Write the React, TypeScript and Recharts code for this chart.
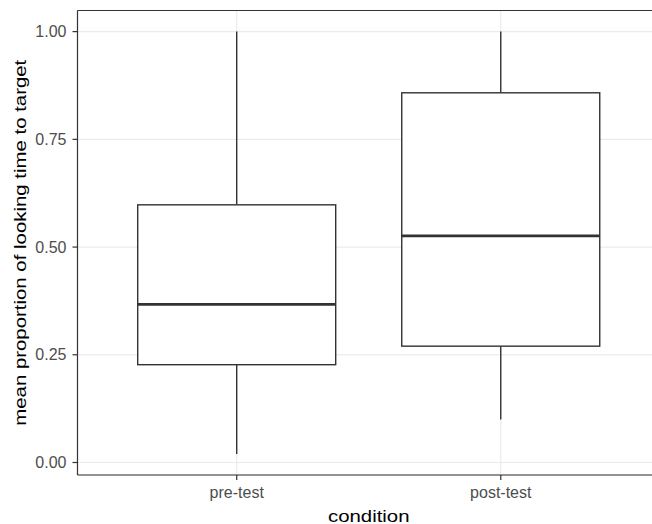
import { Bar, CartesianGrid, ComposedChart, ReferenceLine, XAxis, YAxis } from 'recharts'

const conditions = ['pre-test', 'post-test']
const whiskerLow = [0.02, 0.1]
const lowerQuartile = [0.227, 0.27]
const medians = [0.367, 0.526]
const upperQuartile = [0.598, 0.858]
const whiskerHigh = [1.0, 1.0]

const yTicks = [0, 0.25, 0.5, 0.75, 1]
const yMinorTicks = [0.125, 0.375, 0.625, 0.875]
const yDomain = [-0.029, 1.049]

const data = conditions.map((condition, i) => ({
  condition,
  box: [lowerQuartile[i], upperQuartile[i]],
  min: whiskerLow[i],
  q1: lowerQuartile[i],
  median: medians[i],
  q3: upperQuartile[i],
  max: whiskerHigh[i],
}))

const INK = '#333333'
const FONT = '"Liberation Sans", Arial, Helvetica, sans-serif'

// box + whiskers + median, positioned from the bar's own scaled rect
const BoxShape = (props: any) => {
  const { x, y, width, height, payload } = props
  const top = Math.min(y, y + height)
  const h = Math.abs(height)
  const { min, q1, median, q3, max } = payload
  const perUnit = h / (q3 - q1)
  const yOf = (v: number) => top + (q3 - v) * perUnit
  const cx = x + width / 2
  return (
    <g>
      <line x1={cx} x2={cx} y1={yOf(max)} y2={yOf(q3)} stroke={INK} strokeWidth={1.4} />
      <line x1={cx} x2={cx} y1={yOf(q1)} y2={yOf(min)} stroke={INK} strokeWidth={1.4} />
      <rect x={x} y={top} width={width} height={h} fill="#ffffff" stroke={INK} strokeWidth={1.4} />
      <line x1={x} x2={x + width} y1={yOf(median)} y2={yOf(median)} stroke={INK} strokeWidth={2.8} />
    </g>
  )
}

const XTitle = (props: any) => {
  const { x, y, width } = props.viewBox
  return (
    <text
      transform={`translate(${x + width / 2},${y + 46.5}) scale(1.2,1)`}
      textAnchor="middle"
      fontFamily={FONT}
      fontSize={17}
      fill="#000"
    >
      condition
    </text>
  )
}

const YTitle = (props: any) => {
  const { y, height } = props.viewBox
  return (
    <text
      transform={`translate(25.5,${y + height / 2}) rotate(-90) scale(1.2,1)`}
      textAnchor="middle"
      fontFamily={FONT}
      fontSize={17}
      fill="#000"
    >
      mean proportion of looking time to target
    </text>
  )
}

export default function App() {
  return (
    <div
      style={{
        position: 'fixed',
        left: 0,
        top: 0,
        width: 652,
        height: 524,
        overflow: 'hidden',
        background: '#fff',
      }}
    >
      <ComposedChart
        width={672}
        height={524}
        data={data}
        margin={{ top: 10.5, right: 12, bottom: 0, left: 0 }}
      >
        <CartesianGrid yAxisId="minor" vertical={false} stroke="#F2F2F2" strokeWidth={0.8} />
        <CartesianGrid stroke="#EBEBEB" strokeWidth={1.2} />
        <XAxis
          dataKey="condition"
          height={49}
          padding={{ left: 27.2, right: 27.2 }}
          tickSize={5}
          tickMargin={7}
          axisLine={{ stroke: INK, strokeWidth: 1.2 }}
          tickLine={{ stroke: INK, strokeWidth: 1.2 }}
          tick={{ fill: '#4D4D4D', fontSize: 16, fontFamily: FONT }}
          label={<XTitle />}
        />
        <YAxis
          type="number"
          width={77.5}
          domain={yDomain}
          allowDataOverflow
          ticks={yTicks}
          tickFormatter={(v: number) => v.toFixed(2)}
          tickSize={5}
          tickMargin={6}
          axisLine={{ stroke: INK, strokeWidth: 1.2 }}
          tickLine={{ stroke: INK, strokeWidth: 1.2 }}
          tick={{ fill: '#4D4D4D', fontSize: 16, fontFamily: FONT }}
          label={<YTitle />}
        />
        <YAxis
          yAxisId="minor"
          type="number"
          orientation="right"
          width={0}
          domain={yDomain}
          allowDataOverflow
          ticks={yMinorTicks}
          tick={false}
          tickLine={false}
          axisLine={false}
        />
        <Bar dataKey="box" barSize={198} shape={<BoxShape />} isAnimationActive={false} />
        <ReferenceLine y={yDomain[1]} stroke={INK} strokeWidth={1.2} />
      </ComposedChart>
    </div>
  )
}
